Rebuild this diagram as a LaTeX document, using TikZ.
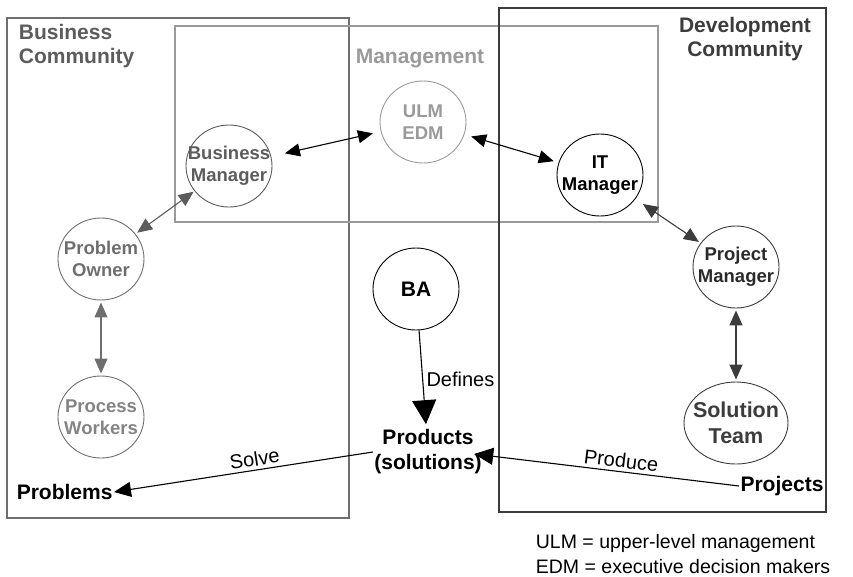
\documentclass[tikz,border=0pt]{standalone}
\usepackage{fontspec}
\setmainfont{Liberation Sans}
\usetikzlibrary{arrows.meta,shapes.geometric,positioning}
\definecolor{bizgray}{HTML}{5C5C5C}
\definecolor{midgray}{HTML}{6E6E6E}
\definecolor{mgmtgray}{HTML}{9A9A9A}
\definecolor{devgray}{HTML}{3C3C3C}
\begin{document}
\begin{tikzpicture}[x=1pt,y=-1pt,line width=1.1pt,
  >={Triangle[length=15pt,width=13pt]}]

   \tikzstyle{actor}=[draw,ellipse,minimum width=86pt,minimum height=82pt,inner xsep=-14pt,inner ysep=0pt,
     align=center,line width=0.9pt,font=\fontsize{18.5}{21.5}\selectfont\bfseries]
   \tikzstyle{thing}=[align=center,inner sep=1pt,font=\fontsize{21}{25}\selectfont\bfseries]
   \tikzstyle{heading}=[align=center,font=\fontsize{21}{24}\selectfont\bfseries]
   \tikzstyle{link}=[<->,shorten >=2pt,shorten <=2pt]
   \tikzstyle{verb}=[font=\fontsize{20}{22}\selectfont,sloped,above]

   \useasboundingbox (0,0) rectangle (853,576);

   % community and management boxes
   \draw[draw=midgray,line width=1.3pt] (7,18) rectangle (349,518);
   \draw[draw=mgmtgray,line width=1.4pt] (175,26) rectangle (658,222);
   \draw[draw=devgray,line width=1.1pt] (499,8) rectangle (826,512);

   \node[heading,text=bizgray,align=left,anchor=west] (bizlabel) at (15,46) {Business\\Community};
   \node[heading,text=devgray] (devlabel) at (745,39) {Development\\Community};
   \node[heading,text=mgmtgray] (mgmtlabel) at (420,58) {Management};

   % people
   \node[actor,draw=bizgray,text=bizgray] (bizmgr) at (229,166) {Business\\Manager};
   \node[actor,draw=mgmtgray,text=mgmtgray] (ulm) at (423,122) {ULM\\EDM};
   \node[actor,draw=black,text=black] (itmgr) at (600,175) {IT\\Manager};
   \node[actor,draw=midgray,text=midgray] (owner) at (101,259) {Problem\\Owner};
   \node[actor,draw=midgray,text=midgray!85] (workers) at (101,417) {Process\\Workers};
   \node[actor,draw=black,text=black,font=\fontsize{21}{24}\selectfont\bfseries] (ba) at (416,289) {BA};
   \node[actor,draw=devgray,text=devgray!70!black] (projmgr) at (736,267) {Project\\Manager};
   \node[actor,draw=devgray,text=devgray,minimum width=104pt,
     font=\fontsize{21.5}{26}\selectfont\bfseries] (solteam) at (736,423) {Solution\\Team};

   % products, problems, projects
   \node[thing] (products) at (428,452) {Products\\(solutions)};
   \node[thing,anchor=east] (problems) at (114,492) {Problems};
   \node[thing,anchor=west] (projects) at (739,486) {Projects};

   \node[align=left,anchor=west,font=\fontsize{19.5}{25}\selectfont] (legend) at (532,554)
     {ULM = upper-level management\\EDM = executive decision makers};

   \draw[link,black,shorten <=14pt,shorten >=8pt] (bizmgr) -- (ulm);
   \draw[link,black,shorten <=7pt,shorten >=5pt] (ulm) -- (itmgr);
   \draw[link,devgray,shorten <=9pt] (itmgr) -- (projmgr);
   \draw[link,bizgray,shorten <=1pt] (bizmgr) -- (owner);
   \draw[link,midgray] (owner) -- (workers);
   \draw[link,devgray] (projmgr) -- (solteam);

   \draw[->,>={Triangle[length=24pt,width=24pt]},shorten >=4pt] (ba) -- (products)
     node[midway,right,font=\fontsize{20}{22}\selectfont] (defines) {Defines};
   \draw[->,>={Triangle[length=17pt,width=15pt]}] (products.west) -- (problems.east)
     node[verb,pos=0.45] (solve) {Solve};
   \draw[->,>={Triangle[length=19pt,width=17pt]}] (projects.west) -- ([xshift=-9pt,yshift=-2pt]products.east)
     node[verb,pos=0.45] (produce) {Produce};

\end{tikzpicture}
\end{document}
